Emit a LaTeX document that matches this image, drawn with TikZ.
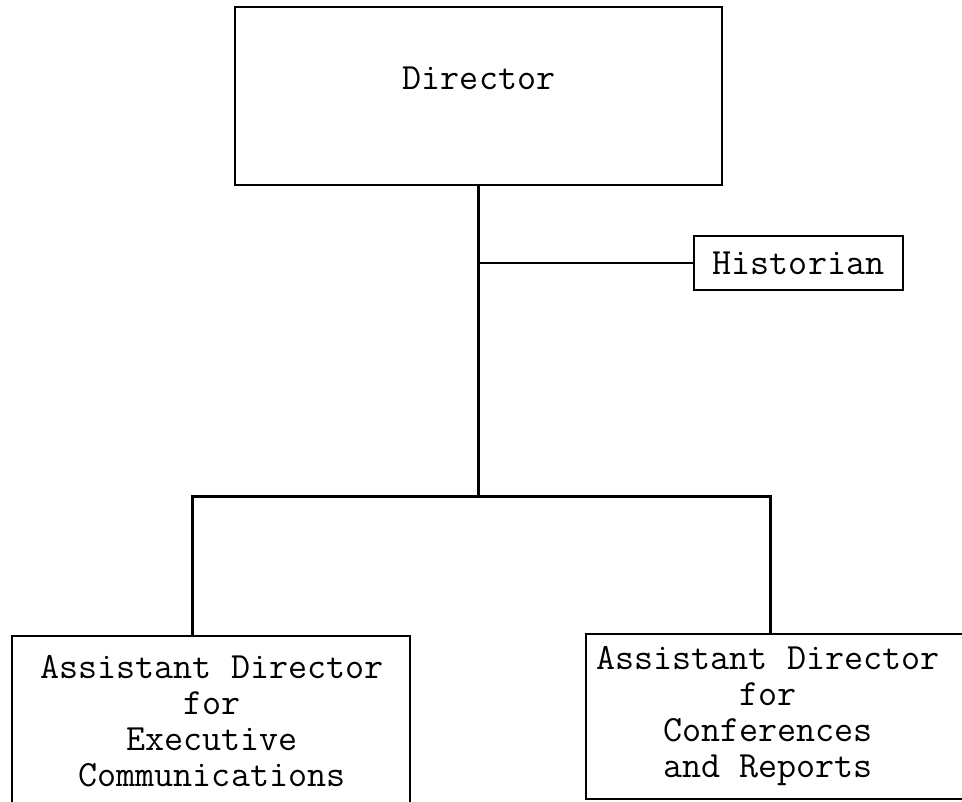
\documentclass[tikz,border=0pt]{standalone}
\usepackage{fontspec}
\begin{document}
\begin{tikzpicture}[x=1pt,y=-1pt,
  box/.style={draw, line width=1.8pt, inner sep=0pt, outer sep=0pt},
  lbl/.style={font=\ttfamily\fontsize{37}{36}\selectfont, inner sep=0pt, align=center},
  link/.style={line width=3pt},
  sidelink/.style={line width=2pt}]
\useasboundingbox (0,0) rectangle (962,802);

% boxes
\node[box, minimum width=487pt, minimum height=178pt] (director) at (478.5,96) {};
\node[lbl] (directortext) at (479,78) {Director};
\node[box, lbl, minimum width=209pt, minimum height=54pt] (historian) at (798.5,263) {Historian};
\node[box, minimum width=398pt, minimum height=194pt] (execbox) at (211,733) {};
\node[lbl] (exectext) at (212,721) {Assistant Director\\for\\Executive\\Communications};
\node[box, minimum width=378pt, minimum height=165pt] (confbox) at (775,716.5) {};
\node[lbl] (conftext) at (768,716.5) {Assistant Director\\for\\Conferences\\and Reports};

% junctions on the distribution bar
\coordinate (hub) at (478.5,496);
\coordinate (leftdrop) at (192,496);
\coordinate (rightdrop) at (770,496);

% connectors
\draw[link] (director.south) -- (hub);
\draw[sidelink] (director.south |- historian.west) -- (historian.west);
\draw[link] (leftdrop |- execbox.north) -- (leftdrop) -- (rightdrop) -- (rightdrop |- confbox.north);
\end{tikzpicture}
\end{document}
